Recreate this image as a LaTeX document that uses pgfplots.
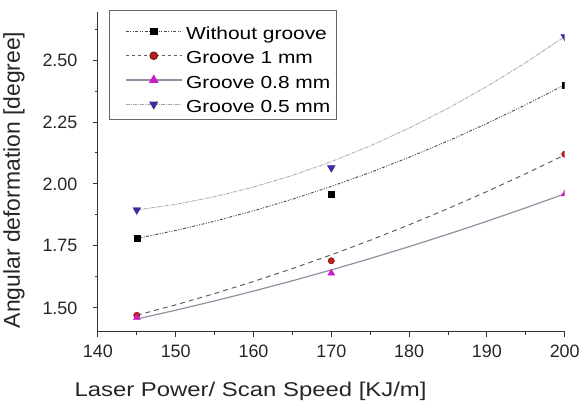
\documentclass[border=0pt]{standalone}
\usepackage{pgfplots}
\pgfplotsset{compat=1.18}
\usepackage{fontspec}
\setmainfont{Liberation Sans}
\newfontfamily\widefont[FakeStretch=1.2]{Liberation Sans}
\definecolor{cWo}{HTML}{4A4A4A}
\definecolor{cOne}{HTML}{606060}
\definecolor{cEight}{HTML}{9A8CA0}
\definecolor{cFive}{HTML}{A8A8A8}
\definecolor{mRed}{HTML}{B8201C}
\definecolor{mMag}{HTML}{C81EC8}
\definecolor{mBlue}{HTML}{3C2C9C}
\begin{document}
\begin{tikzpicture}
\begin{axis}[
  scale only axis, width=467bp, height=320bp,
  xmin=140, xmax=200, ymin=1.403, ymax=2.694,
  axis x line*=bottom, axis y line*=left,
  axis line style={-, line width=1.1pt, color=black!80},
  tick style={line width=1pt, color=black!80},
  tick align=outside, major tick length=5bp, minor tick length=3bp,
  xtick={140,150,160,170,180,190,200},
  minor xtick={145,155,165,175,185,195},
  ytick={1.5,1.75,2,2.25,2.5},
  minor ytick={1.625,1.875,2.125,2.375,2.625},
  yticklabel style={xshift=-12bp, /pgf/number format/.cd, fixed, fixed zerofill, precision=2},
  xticklabel style={yshift=-5bp},
  /pgf/number format/assume math mode=true,
  ticklabel style={font=\fontsize{18}{18}\selectfont, color=black!85},
  xlabel={Laser Power/ Scan Speed [KJ/m]},
  ylabel={Angular deformation [degree]},
  xlabel style={font=\widefont\fontsize{20}{20}\selectfont, color=black!85, at={(ticklabel cs:0.327)}, anchor=north, inner sep=0pt, yshift=-20bp},
  ylabel style={font=\fontsize{23}{23}\selectfont, color=black!85, at={(ticklabel cs:0.475,11bp)}},
  clip marker paths=true,
  legend cell align=left,
  legend style={at={(0.0236,1.006)}, anchor=north west, draw=black!60, line width=0.8pt,
    font=\widefont\fontsize{17.5}{17.5}\selectfont, inner xsep=2bp, inner ysep=7bp, row sep=2.3bp,
    nodes={inner ysep=0pt, inner xsep=4bp, text height=22bp, text depth=0bp}},
  legend image code/.code={\path (0pt,0pt); \draw[mark repeat=2, mark phase=2] plot coordinates {(14pt,-3pt)(42pt,-3pt)(70pt,-3pt)};},
  extra description/.code={\path (0,1) ++(0pt,12bp);},
]
% fitted curves
\addplot[cFive, line width=0.8pt, dash pattern=on 4pt off 1pt on 1pt off 1pt, forget plot] coordinates {
(145,1.895)(150,1.9176)(155,1.9484)(160,1.9874)(165,2.0346)(170,2.09)(175,2.1536)(180,2.2254)(185,2.3055)(190,2.3937)(195,2.4902)(200,2.595)};
\addplot[cWo, line width=0.9pt, dash pattern=on 3pt off 1.5pt on 1pt off 1.5pt on 1pt off 1.5pt, forget plot] coordinates {
(145,1.78)(150,1.8124)(155,1.8496)(160,1.8917)(165,1.9384)(170,1.99)(175,2.0464)(180,2.1076)(185,2.1735)(190,2.2443)(195,2.3198)(200,2.40)};
\addplot[cOne, line width=1pt, dash pattern=on 5pt off 4pt, forget plot] coordinates {
(145,1.47)(150,1.5121)(155,1.5576)(160,1.6064)(165,1.6585)(170,1.714)(175,1.7728)(180,1.835)(185,1.9005)(190,1.9694)(195,2.0415)(200,2.117)};
\addplot[cEight, line width=1.2pt, forget plot] coordinates {
(145,1.455)(150,1.4904)(155,1.5279)(160,1.5676)(165,1.6092)(170,1.653)(175,1.699)(180,1.7471)(185,1.7972)(190,1.8495)(195,1.9038)(200,1.96)};
% data points
\addplot[only marks, mark=square*, mark size=3pt, mark options={fill=black, draw=black}, forget plot] coordinates {(145,1.78)(170,1.96)(200,2.40)};
\addplot[only marks, mark=*, mark size=3.2pt, mark options={fill=mRed, draw=mRed!70!black}, forget plot] coordinates {(145,1.47)(170,1.69)(200,2.12)};
\addplot[only marks, mark=triangle*, mark size=4pt, mark options={fill=mMag, draw=mMag}, forget plot] coordinates {(145,1.46)(170,1.64)(200,1.96)};
\addplot[only marks, mark=triangle*, mark size=4.5pt, mark options={fill=mBlue, draw=mBlue, rotate=180}, forget plot] coordinates {(145,1.895)(170,2.065)(200,2.595)};
% legend
\addlegendimage{cWo, line width=0.9pt, dash pattern=on 3pt off 1.5pt on 1pt off 1.5pt on 1pt off 1.5pt, mark=square*, mark size=3.3pt, mark options={solid, fill=black, draw=black}}
\addlegendentry{Without groove}
\addlegendimage{cOne, line width=1pt, dash pattern=on 3pt off 3pt, mark=*, mark size=3.8pt, mark options={solid, fill=mRed, draw=mRed!70!black}}
\addlegendentry{Groove 1 mm}
\addlegendimage{cEight, line width=1.2pt, mark=triangle*, mark size=4.5pt, mark options={solid, fill=mMag, draw=mMag}}
\addlegendentry{Groove 0.8 mm}
\addlegendimage{cFive, line width=0.8pt, dash pattern=on 4pt off 1pt on 1pt off 1pt, mark=triangle*, mark size=4.5pt, mark options={solid, fill=mBlue, draw=mBlue, rotate=180}}
\addlegendentry{Groove 0.5 mm}
\end{axis}
\end{tikzpicture}
\end{document}
